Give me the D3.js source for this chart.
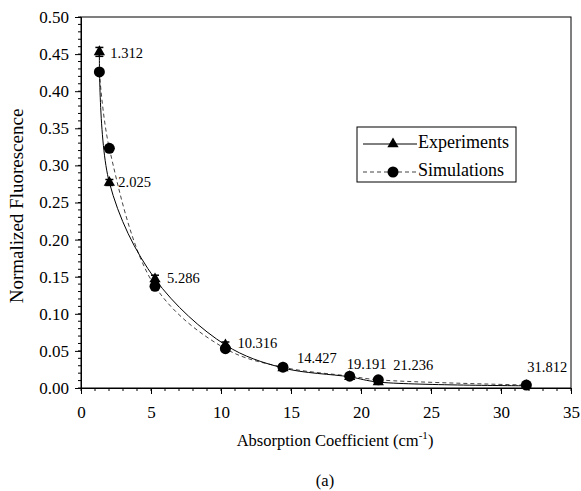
<!DOCTYPE html>
<html>
<head>
<meta charset="utf-8">
<script src="https://cdn.jsdelivr.net/npm/d3@7"></script>
<style>
  body { margin: 0; background: #fff; }
  text { font-family: "Liberation Serif", "DejaVu Serif", serif; fill: #000; }
</style>
</head>
<body>
<svg id="chart" width="581" height="491"></svg>
<script>
// absorption coefficients (cm^-1)
const absorption = [1.312, 2.025, 5.286, 10.316, 14.427, 19.191, 21.236, 31.812];
const experiments = [0.453, 0.277, 0.147, 0.058, 0.027, 0.015, 0.008, 0.003];
const simulations = [0.426, 0.323, 0.137, 0.053, 0.028, 0.016, 0.011, 0.004];
const expError = [0.006, 0.004, 0.005, 0.004, 0.003, 0.003, 0.003, 0.002];
const xTicks = [0, 5, 10, 15, 20, 25, 30, 35];
const yTicks = [0, 0.05, 0.1, 0.15, 0.2, 0.25, 0.3, 0.35, 0.4, 0.45, 0.5];
// label offsets (px) for the value labels
const labelOffsets = [[11, 6], [9, 5], [12, 4], [12, 3], [14, -5], [-3, -8], [15, -12], [1, -14]];

const svg = d3.select('#chart');
const margin = { top: 17, right: 10, bottom: 103, left: 81 };
const width = 581 - margin.left - margin.right;
const height = 491 - margin.top - margin.bottom;

const x = d3.scaleLinear().domain([0, 35]).range([0, width]);
const y = d3.scaleLinear().domain([0, 0.5]).range([height, 0]);

const g = svg.append('g').attr('transform', `translate(${margin.left},${margin.top})`);

// frame
g.append('rect')
  .attr('width', width)
  .attr('height', height)
  .attr('fill', 'none')
  .attr('stroke', '#000')
  .attr('stroke-width', 1);

// minor ticks
const xMinor = d3.range(0, 36, 1);
const yMinor = d3.range(0, 0.501, 0.01);
g.append('g').selectAll('line').data(xMinor).enter().append('line')
  .attr('x1', (d) => x(d)).attr('x2', (d) => x(d))
  .attr('y1', height).attr('y2', height + 3)
  .attr('stroke', '#000');
g.append('g').selectAll('line').data(yMinor).enter().append('line')
  .attr('x1', -3).attr('x2', 0)
  .attr('y1', (d) => y(d)).attr('y2', (d) => y(d))
  .attr('stroke', '#000');

const xAxis = g.append('g')
  .attr('transform', `translate(0,${height})`)
  .call(d3.axisBottom(x).tickValues(xTicks).tickSize(6).tickPadding(12).tickFormat(d3.format('d')));
const yAxis = g.append('g')
  .call(d3.axisLeft(y).tickValues(yTicks).tickSize(6).tickPadding(6).tickFormat(d3.format('.2f')));
[xAxis, yAxis].forEach((a) => {
  a.selectAll('text').style('font-size', '17px').attr('font-family', null);
  a.select('.domain').attr('stroke', '#000');
});

// axis titles
const xTitle = svg.append('text')
  .attr('x', 335)
  .attr('y', 446)
  .attr('text-anchor', 'middle')
  .style('font-size', '16.5px');
xTitle.append('tspan').text('Absorption Coefficient (cm');
xTitle.append('tspan').attr('dy', -7).style('font-size', '11px').text('-1');
xTitle.append('tspan').attr('dy', 7).text(')');

svg.append('text')
  .attr('transform', 'translate(23,206) rotate(-90)')
  .attr('text-anchor', 'middle')
  .style('font-size', '19px')
  .text('Normalized Fluorescence');

svg.append('text')
  .attr('x', 325)
  .attr('y', 486)
  .attr('text-anchor', 'middle')
  .style('font-size', '16.5px')
  .text('(a)');

// smoothed lines
const expData = absorption.map((d, i) => ({ x: d, y: experiments[i], e: expError[i] }));
const simData = absorption.map((d, i) => ({ x: d, y: simulations[i] }));
const line = d3.line()
  .x((d) => x(d.x))
  .y((d) => y(d.y))
  .curve(d3.curveCatmullRom.alpha(0.5));

g.append('path')
  .datum(simData)
  .attr('d', line)
  .attr('fill', 'none')
  .attr('stroke', '#444')
  .attr('stroke-width', 1)
  .attr('stroke-dasharray', '4,3');

g.append('path')
  .datum(expData)
  .attr('d', line)
  .attr('fill', 'none')
  .attr('stroke', '#000')
  .attr('stroke-width', 1);

// error bars
const eb = g.append('g').selectAll('g').data(expData).enter().append('g');
eb.append('line')
  .attr('x1', (d) => x(d.x)).attr('x2', (d) => x(d.x))
  .attr('y1', (d) => y(d.y + d.e)).attr('y2', (d) => y(d.y - d.e))
  .attr('stroke', '#000').attr('stroke-width', 1.5);
eb.selectAll('.cap').data((d) => [d.y + d.e, d.y - d.e].map((v) => ({ x: d.x, v }))).enter().append('line')
  .attr('x1', (d) => x(d.x) - 4).attr('x2', (d) => x(d.x) + 4)
  .attr('y1', (d) => y(d.v)).attr('y2', (d) => y(d.v))
  .attr('stroke', '#000').attr('stroke-width', 1.5);

// markers
const tri = d3.symbol().type(d3.symbolTriangle).size(55);
g.append('g').selectAll('path').data(expData).enter().append('path')
  .attr('d', tri)
  .attr('transform', (d) => `translate(${x(d.x)},${y(d.y)})`)
  .attr('fill', '#000');

g.append('g').selectAll('circle').data(simData).enter().append('circle')
  .attr('cx', (d) => x(d.x))
  .attr('cy', (d) => y(d.y))
  .attr('r', 5.5)
  .attr('fill', '#000');

// value labels
g.append('g').selectAll('text').data(expData).enter().append('text')
  .attr('x', (d, i) => x(d.x) + labelOffsets[i][0])
  .attr('y', (d, i) => y(d.y) + labelOffsets[i][1])
  .style('font-size', '14.5px')
  .text((d) => d.x.toFixed(3));

// legend
const legend = svg.append('g').attr('transform', 'translate(357,127)');
legend.append('rect')
  .attr('width', 159).attr('height', 55)
  .attr('fill', '#fff').attr('stroke', '#000');
const entries = [
  { name: 'Experiments', dash: null, color: '#000', shape: 'tri' },
  { name: 'Simulations', dash: '4,3', color: '#444', shape: 'circle' },
];
entries.forEach((e, i) => {
  const row = legend.append('g').attr('transform', `translate(0,${17 + i * 28})`);
  row.append('line')
    .attr('x1', 6).attr('x2', 60)
    .attr('stroke', e.color)
    .attr('stroke-dasharray', e.dash);
  if (e.shape === 'tri') {
    row.append('path').attr('d', tri).attr('transform', 'translate(36,0)').attr('fill', '#000');
  } else {
    row.append('circle').attr('cx', 36).attr('r', 5.5).attr('fill', '#000');
  }
  row.append('text')
    .attr('x', 61).attr('y', 4)
    .style('font-size', '18px')
    .text(e.name);
});
</script>
</body>
</html>
